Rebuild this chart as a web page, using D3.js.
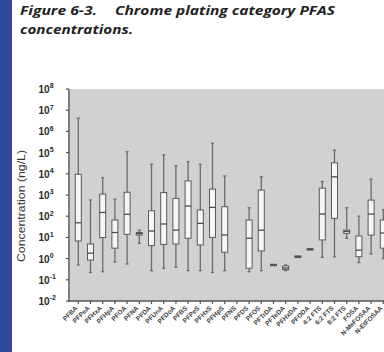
<!DOCTYPE html>
<html>
<head>
<meta charset="utf-8">
<script src="https://cdn.jsdelivr.net/npm/d3@7"></script>
<style>
  html, body { margin: 0; padding: 0; background: #fff; }
  svg { display: block; }
</style>
</head>
<body>
<div id="chart"></div>
<script>
const compounds = ['PFBA','PFPeA','PFHxA','PFHpA','PFOA','PFNA','PFDA','PFUnA','PFDoA','PFBS','PFPeS','PFHxS','PFHpS',
  'PFNS','PFDS','PFOS','PFTrDA','PFTeDA','PFHxDA','PFODA','4:2 FTS','6:2 FTS','8:2 FTS','FOSA','N-MeFOSAA','N-EtFOSAA'];
// box plot stats, ng/L (null = no detects)
const whiskerLow = [0.5, 0.22, 0.24, 0.7, 0.56, 5.2, 0.27, 0.35, 0.39, 0.27, 0.27, 0.22, 0.27,
  null, 0.24, 0.27, 0.5, 0.27, 1.23, 2.75, 1.15, 1.23, 9.1, 0.65, 1.66, 1.0];
const q1 = [6.8, 0.85, 9.8, 3.1, 14, 13, 4.1, 4.7, 4.9, 9.1, 4.4, 10, 2.0,
  null, 0.35, 2.3, 0.46, 0.3, 1.12, 2.55, 7.6, 79, 15.5, 1.23, 12.9, 3.1];
const medians = [49, 1.8, 150, 17, 123, 15, 20, 43, 22, 300, 46, 260, 13,
  null, 9.1, 22, 0.5, 0.36, 1.23, 2.75, 126, 7200, 19, 2.5, 126, 16];
const q3 = [9500, 4.9, 1100, 66, 1350, 17, 180, 1300, 690, 4600, 195, 1900, 280,
  null, 66, 1700, 0.54, 0.45, 1.35, 2.95, 2100, 33000, 22, 11.7, 575, 66];
const whiskerHigh = [4.2e6, 580, 6600, 630, 1.1e5, 22, 2.8e4, 7.8e4, 2.4e4, 3.7e4, 2.8e4, 2.75e5, 7900,
  null, 250, 7200, 0.5, 0.5, 1.23, 2.75, 4300, 1.3e5, 250, 100, 5600, 200];
const yTicks = [-2, -1, 0, 1, 2, 3, 4, 5, 6, 7, 8];

const width = 384, height = 352;
const plotL = 70, plotR = 384, plotT = 89, plotB = 301;

const svg = d3.select('#chart').append('svg')
  .attr('width', width).attr('height', height);

// blue side band
svg.append('rect').attr('x', 0).attr('y', 0).attr('width', 12).attr('height', height).attr('fill', '#2f4a99');

// title (stretched to the width of the original caption)
const title = svg.append('text').attr('font-family', 'Open Sans, Liberation Sans, sans-serif')
  .attr('font-weight', 'bold').attr('font-style', 'italic').attr('font-size', 12.5).attr('fill', '#222');
title.append('tspan').attr('x', 20).attr('y', 15).attr('textLength', 77).attr('lengthAdjust', 'spacingAndGlyphs')
  .text('Figure 6-3.');
title.append('tspan').attr('x', 115).attr('y', 15).attr('textLength', 220).attr('lengthAdjust', 'spacingAndGlyphs')
  .text('Chrome plating category PFAS');
title.append('tspan').attr('x', 20).attr('y', 34).attr('textLength', 113).attr('lengthAdjust', 'spacingAndGlyphs')
  .text('concentrations.');

const x = d3.scalePoint().domain(compounds).range([78.3, 383.3]);
const y = d3.scaleLog().domain([1e-2, 1e8]).range([plotB, plotT]);

svg.append('rect').attr('x', plotL).attr('y', plotT).attr('width', plotR - plotL).attr('height', plotB - plotT)
  .attr('fill', '#d1d1d3');

const rows = compounds.map((c, i) => ({
  c, lo: whiskerLow[i], q1: q1[i], med: medians[i], q3: q3[i], hi: whiskerHigh[i]
})).filter(d => d.med != null);

const boxW = 6, capW = 3;
const g = svg.append('g');
const box = g.selectAll('.box').data(rows).join('g').attr('class', 'box');

box.append('line')
  .attr('x1', d => x(d.c)).attr('x2', d => x(d.c))
  .attr('y1', d => y(d.hi)).attr('y2', d => y(d.lo))
  .attr('stroke', '#6b6b6b').attr('stroke-width', 1.3);
box.append('line')
  .attr('x1', d => x(d.c) - capW / 2).attr('x2', d => x(d.c) + capW / 2)
  .attr('y1', d => y(d.hi)).attr('y2', d => y(d.hi))
  .attr('stroke', '#6b6b6b').attr('stroke-width', 1.3);
box.append('line')
  .attr('x1', d => x(d.c) - capW / 2).attr('x2', d => x(d.c) + capW / 2)
  .attr('y1', d => y(d.lo)).attr('y2', d => y(d.lo))
  .attr('stroke', '#6b6b6b').attr('stroke-width', 1.3);
box.append('rect')
  .attr('x', d => x(d.c) - boxW / 2).attr('width', boxW)
  .attr('y', d => y(d.q3)).attr('height', d => Math.max(1.5, y(d.q1) - y(d.q3)))
  .attr('fill', '#f6f6f6').attr('stroke', '#5a5a5a').attr('stroke-width', 1);
box.append('line')
  .attr('x1', d => x(d.c) - boxW / 2).attr('x2', d => x(d.c) + boxW / 2)
  .attr('y1', d => y(d.med)).attr('y2', d => y(d.med))
  .attr('stroke', '#4a4a4a').attr('stroke-width', 1.3);

// y axis
const yAxis = svg.append('g').attr('font-family', 'Liberation Sans, Arial, sans-serif');
yAxis.append('line').attr('x1', plotL - 1).attr('x2', plotL - 1).attr('y1', plotT).attr('y2', plotB + 1)
  .attr('stroke', '#555').attr('stroke-width', 1.5);
const yt = yAxis.selectAll('.yt').data(yTicks).join('g').attr('class', 'yt')
  .attr('transform', e => `translate(0,${y(Math.pow(10, e))})`);
yt.append('line').attr('x1', plotL - 4).attr('x2', plotL - 1).attr('stroke', '#555').attr('stroke-width', 1.2);
const yl = yt.append('text').attr('x', 38.5).attr('dy', '0.4em').attr('font-size', 10).attr('font-weight', 'bold')
  .attr('fill', '#2a2a2a');
yl.append('tspan').text('10');
yl.append('tspan').attr('font-size', 7).attr('dy', '-0.65em').text(e => e);

svg.append('text')
  .attr('transform', 'translate(25,206) rotate(-90)')
  .attr('text-anchor', 'middle').attr('font-family', 'Liberation Sans, Arial, sans-serif')
  .attr('font-size', 10.5).attr('fill', '#333').attr('textLength', 112).attr('lengthAdjust', 'spacingAndGlyphs')
  .text('Concentration (ng/L)');

// x axis
svg.append('line').attr('x1', plotL - 1).attr('x2', plotR).attr('y1', plotB).attr('y2', plotB)
  .attr('stroke', '#555').attr('stroke-width', 1.5);
const xt = svg.append('g').selectAll('.xt').data(compounds).join('g').attr('class', 'xt')
  .attr('transform', c => `translate(${x(c)},${plotB})`);
xt.append('line').attr('y1', 0).attr('y2', 3).attr('stroke', '#555').attr('stroke-width', 1.2);
xt.append('text')
  .attr('transform', 'translate(-2,6) rotate(-45)')
  .attr('text-anchor', 'end').attr('dy', '0.35em')
  .attr('font-family', 'Liberation Sans, Arial, sans-serif').attr('font-size', 6.5).attr('font-weight', 'bold')
  .attr('fill', '#444').text(c => c);
</script>
</body>
</html>
